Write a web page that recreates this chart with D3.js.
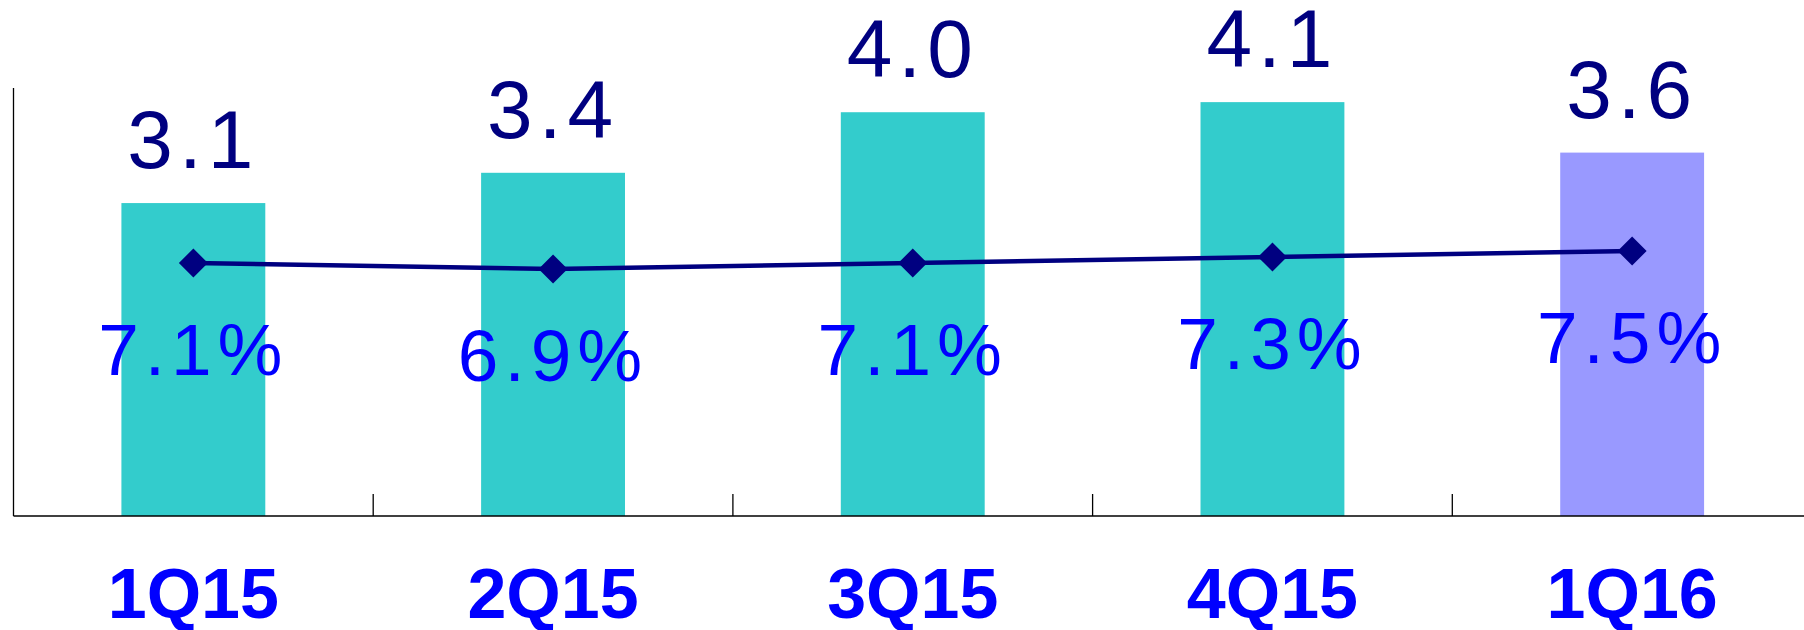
<!DOCTYPE html>
<html>
<head>
<meta charset="utf-8">
<script src="https://cdn.jsdelivr.net/npm/d3@7"></script>
<style>
  body { margin: 0; background: #fff; }
  svg { display: block; }
</style>
</head>
<body>
<div id="vis"></div>
<script>
const quarters = ["1Q15", "2Q15", "3Q15", "4Q15", "1Q16"];
const amounts = [3.1, 3.4, 4.0, 4.1, 3.6];
const ratios = [7.1, 6.9, 7.1, 7.3, 7.5];
const barColors = ["#33CCCC", "#33CCCC", "#33CCCC", "#33CCCC", "#9999FF"];

const width = 1804, height = 630;
const left = 13.5, baseY = 516, topY = 88;

const svg = d3.select("#vis")
  .append("svg")
  .attr("width", width)
  .attr("height", height);

const x = d3.scaleBand()
  .domain(quarters)
  .range([left, left + 5 * 359.7])
  .padding(0);

const y = d3.scaleLinear()
  .domain([0, 4.24])
  .range([baseY, topY]);

// right-hand scale for the ratio line (not drawn)
const y2 = d3.scaleLinear()
  .domain([0, 13])
  .range([476, 86]);

const barW = x.bandwidth() * 0.4;
const cx = d => x(d) + x.bandwidth() / 2;

svg.selectAll("rect.bar")
  .data(quarters)
  .join("rect")
  .attr("class", "bar")
  .attr("x", d => cx(d) - barW / 2)
  .attr("y", (d, i) => y(amounts[i]))
  .attr("width", barW)
  .attr("height", (d, i) => baseY - y(amounts[i]))
  .attr("fill", (d, i) => barColors[i]);

// axes
svg.append("line")
  .attr("x1", left).attr("x2", left)
  .attr("y1", topY).attr("y2", baseY)
  .attr("stroke", "#000").attr("stroke-width", 1.3);

svg.append("line")
  .attr("x1", left).attr("x2", width)
  .attr("y1", baseY).attr("y2", baseY)
  .attr("stroke", "#000").attr("stroke-width", 1.3);

svg.selectAll("line.tick")
  .data(quarters.slice(1))
  .join("line")
  .attr("class", "tick")
  .attr("x1", d => x(d)).attr("x2", d => x(d))
  .attr("y1", baseY).attr("y2", baseY - 22)
  .attr("stroke", "#000").attr("stroke-width", 1.3);

// ratio line
const line = d3.line()
  .x((d, i) => cx(quarters[i]))
  .y(d => y2(d));

svg.append("path")
  .datum(ratios)
  .attr("fill", "none")
  .attr("stroke", "#000080")
  .attr("stroke-width", 4.5)
  .attr("d", line);

svg.selectAll("path.marker")
  .data(ratios)
  .join("path")
  .attr("class", "marker")
  .attr("transform", (d, i) => `translate(${cx(quarters[i])},${y2(d)})`)
  .attr("d", "M0,-14.5L14.5,0L0,14.5L-14.5,0Z")
  .attr("fill", "#000080");

// value labels
svg.selectAll("text.amount")
  .data(amounts)
  .join("text")
  .attr("class", "amount")
  .attr("x", (d, i) => cx(quarters[i]))
  .attr("y", d => y(d) - 35)
  .attr("text-anchor", "middle")
  .attr("font-family", "Liberation Sans, Arial, sans-serif")
  .attr("font-size", 82)
  .attr("letter-spacing", 6)
  .attr("fill", "#000080")
  .text(d => d.toFixed(1));

svg.selectAll("text.ratio")
  .data(ratios)
  .join("text")
  .attr("class", "ratio")
  .attr("x", (d, i) => cx(quarters[i]))
  .attr("y", d => y2(d) + 112)
  .attr("text-anchor", "middle")
  .attr("font-family", "Liberation Sans, Arial, sans-serif")
  .attr("font-size", 73)
  .attr("letter-spacing", 6)
  .attr("fill", "#0000FF")
  .text(d => d.toFixed(1) + "%");

svg.selectAll("text.cat")
  .data(quarters)
  .join("text")
  .attr("class", "cat")
  .attr("x", d => cx(d))
  .attr("y", 618)
  .attr("text-anchor", "middle")
  .attr("font-family", "Liberation Sans, Arial, sans-serif")
  .attr("font-weight", "bold")
  .attr("font-size", 70)
  .attr("fill", "#0000FF")
  .text(d => d);
</script>
</body>
</html>
